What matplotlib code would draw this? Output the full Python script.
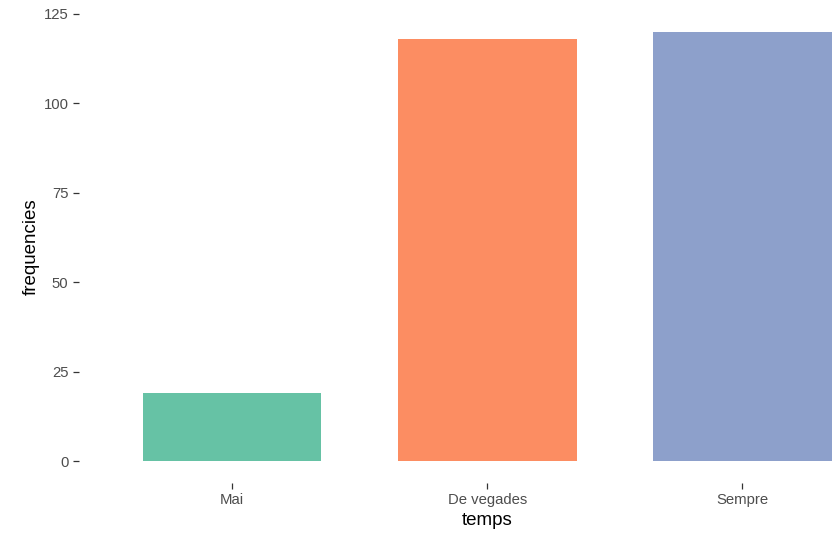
import matplotlib
matplotlib.use("Agg")
import matplotlib.pyplot as plt

categories = ["Mai", "De vegades", "Sempre"]
values = [19, 118, 120]
colors = ["#66C2A5", "#FC8D62", "#8DA0CB"]
yticks = [0, 25, 50, 75, 100, 125]

plt.rcParams['font.family'] = ['Liberation Sans', 'DejaVu Sans']

W, H = 834, 533
fig = plt.figure(figsize=(W / 100, H / 100), dpi=100)
# panel extends past the right edge of the image (as in the reference)
left, right = 79, 895.5
top, bottom = 10.4, 482.5
ax = fig.add_axes([left / W, 1 - bottom / H, (right - left) / W, (bottom - top) / H])

x = list(range(1, len(categories) + 1))
ax.bar(x, values, width=0.7, color=colors)
ax.set_xlim(0.4, 3.6)
ax.set_ylim(-6, 126)
ax.set_xticks(x)
ax.set_xticklabels(categories)
ax.set_yticks(yticks)
for s in ax.spines.values():
    s.set_visible(False)
ax.tick_params(axis='both', colors='#333333', length=4, width=0.9, labelsize=10.7, labelcolor='#4D4D4D', pad=3.5)
ax.set_xlabel("temps", fontsize=13.5, color='black', labelpad=4)
ax.set_ylabel("frequencies", fontsize=13.5, color='black', labelpad=3)

fig.savefig("out.png", dpi=100)
